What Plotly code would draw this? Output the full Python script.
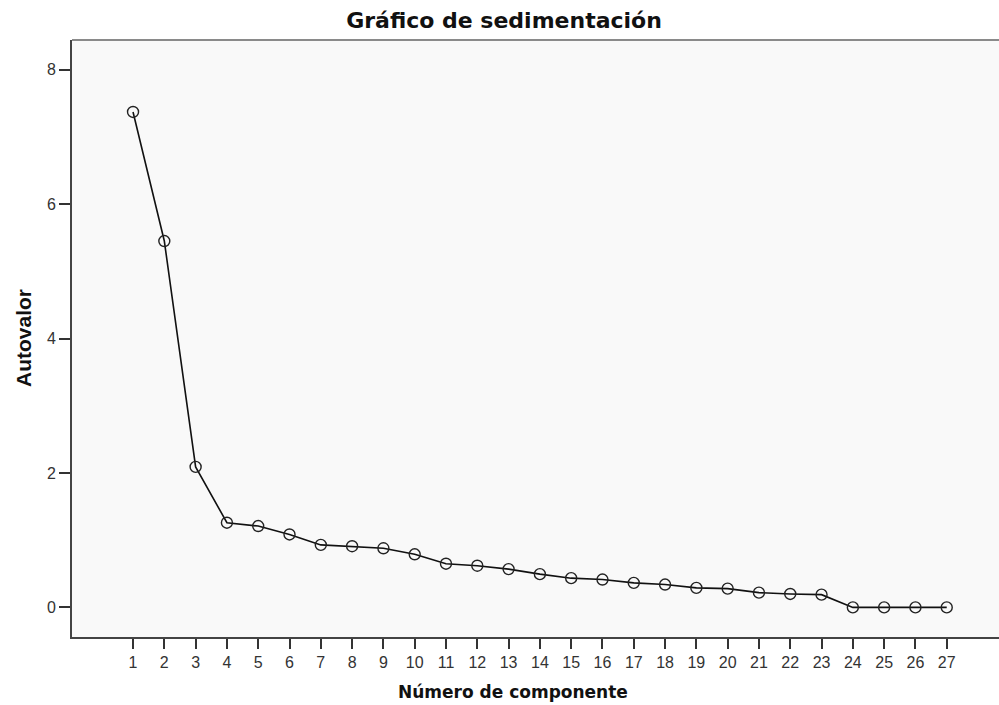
import plotly.graph_objects as go

components = list(range(1, 28))
eigenvalues = [7.37, 5.45, 2.09, 1.26, 1.21, 1.085, 0.93, 0.91, 0.88, 0.79,
               0.65, 0.62, 0.57, 0.495, 0.435, 0.415, 0.365, 0.34, 0.29, 0.28,
               0.22, 0.20, 0.19, 0.0, 0.0, 0.0, 0.0]
y_ticks = [0, 2, 4, 6, 8]

W, H = 999, 705
L, R, T, B = 72, 0, 40, 68

fig = go.Figure()
fig.add_trace(go.Scatter(
    x=components, y=eigenvalues, mode="lines+markers",
    line=dict(color="#111111", width=1.6),
    marker=dict(symbol="circle-open", size=11, color="#222222", line=dict(width=1.4)),
    showlegend=False, hoverinfo="x+y"))

fig.update_layout(
    width=W, height=H,
    margin=dict(l=L, r=R, t=T, b=B),
    paper_bgcolor="white", plot_bgcolor="#f9f9f9",
    title=dict(text="Gráfico de sedimentación", x=504 / W, xanchor="center",
               xref="container", yref="container", y=1 - 20 / H, yanchor="middle",
               font=dict(family="DejaVu Sans", size=22, color="#111111", weight="bold")),
    font=dict(family="Liberation Sans", size=16, color="#222222"),
    shapes=[dict(type="line", xref="paper", yref="paper", x0=0, x1=1, y0=1, y1=1,
                 line=dict(color="#8a8a8a", width=2))],
    annotations=[
        dict(text="Número de componente", xref="paper", yref="paper",
             x=(513 - L) / (W - L - R), y=0, xanchor="center", yanchor="middle",
             yshift=-(692 - (H - B)), showarrow=False,
             font=dict(family="DejaVu Sans", size=17, color="#111111", weight="bold")),
        dict(text="Autovalor", xref="paper", yref="paper",
             x=0, y=(H - B - 338) / (H - B - T), xanchor="center", yanchor="middle",
             textangle=-90, xshift=-(L - 23), showarrow=False,
             font=dict(family="Liberation Sans", size=21, color="#111111", weight="bold")),
    ],
)
fig.update_xaxes(
    range=[-0.95, 28.67], tickvals=components, ticktext=[str(c) for c in components],
    showgrid=False, zeroline=False, showline=True, linecolor="#444444", linewidth=2,
    ticks="outside", ticklen=10, tickwidth=1.5, tickcolor="#333333",
    tickfont=dict(family="Liberation Sans", size=16, color="#333333"))
fig.update_yaxes(
    range=[-0.44, 8.44], tickvals=y_ticks, ticktext=[str(v) for v in y_ticks],
    showgrid=False, zeroline=False, showline=True, linecolor="#444444", linewidth=2,
    ticks="outside", ticklen=11, tickwidth=1.5, tickcolor="#333333",
    tickfont=dict(family="Liberation Sans", size=16, color="#333333"))

fig.write_html("out.html", config={"displayModeBar": False},
               post_script="document.body.style.margin='0';document.body.style.overflow='hidden';")
